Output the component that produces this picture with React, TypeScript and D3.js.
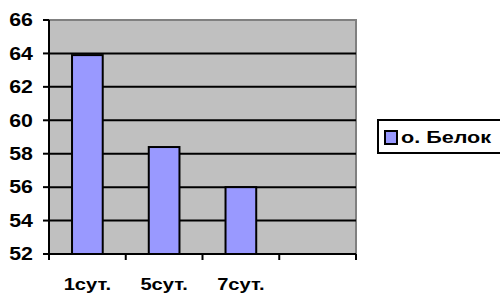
import * as d3 from "d3";
import { useEffect, useRef } from "react";

const categories = ["1сут.", "5сут.", "7сут.", ""];
const belok = [63.9, 58.4, 56.0, null];
const yTicks = [52, 54, 56, 58, 60, 62, 64, 66];
const seriesName = "о. Белок";

const App = () => {
  const ref = useRef<SVGSVGElement>(null);

  useEffect(() => {
    const svg = d3.select(ref.current);
    svg.selectAll("*").remove();

    const left = 49, right = 356, top = 20, bottom = 254;
    const font = "'Liberation Sans', Arial, sans-serif";
    const sx = 1.22; // text in the original is stretched wide

    const x = d3.scaleBand().domain(categories.map((c, i) => i + "")).range([left, right]);
    const y = d3.scaleLinear().domain([52, 66]).range([bottom, top]);

    // plot background
    svg.append("rect")
      .attr("x", left).attr("y", top)
      .attr("width", right - left).attr("height", bottom - top)
      .attr("fill", "#c0c0c0");

    // top and right border (gray)
    svg.append("path")
      .attr("d", `M${left},${top}H${right}V${bottom}`)
      .attr("fill", "none")
      .attr("stroke", "#808080")
      .attr("stroke-width", 2);

    // gridlines
    svg.selectAll(".grid")
      .data(yTicks.filter(t => t !== 52 && t !== 66))
      .enter().append("line")
      .attr("x1", left).attr("x2", right)
      .attr("y1", d => y(d)).attr("y2", d => y(d))
      .attr("stroke", "#000")
      .attr("stroke-width", 2);

    // bars
    const bw = x.bandwidth() * 0.4;
    svg.selectAll(".bar")
      .data(belok.map((v, i) => ({ v, i })).filter(d => d.v !== null))
      .enter().append("rect")
      .attr("x", d => (x(d.i + "") as number) + x.bandwidth() / 2 - bw / 2)
      .attr("y", d => y(d.v as number))
      .attr("width", bw)
      .attr("height", d => bottom - y(d.v as number))
      .attr("fill", "#9999ff")
      .attr("stroke", "#000")
      .attr("stroke-width", 2);

    // axes
    svg.append("line")
      .attr("x1", left).attr("x2", left).attr("y1", top).attr("y2", bottom + 5)
      .attr("stroke", "#000").attr("stroke-width", 2);
    svg.append("line")
      .attr("x1", left - 6).attr("x2", right).attr("y1", bottom).attr("y2", bottom)
      .attr("stroke", "#000").attr("stroke-width", 2);

    // y ticks
    svg.selectAll(".ytick")
      .data(yTicks)
      .enter().append("line")
      .attr("x1", left - 6).attr("x2", left)
      .attr("y1", d => y(d)).attr("y2", d => y(d))
      .attr("stroke", "#000").attr("stroke-width", 2);

    svg.selectAll(".ylabel")
      .data(yTicks)
      .enter().append("text")
      .attr("transform", d => `translate(33,${y(d)}) scale(${sx},1)`)
      .attr("dy", "0.36em")
      .attr("text-anchor", "end")
      .attr("font-family", font)
      .attr("font-weight", "bold")
      .attr("font-size", 17.5)
      .text(d => d);

    // x ticks at band boundaries
    const bounds = categories.map((c, i) => x(i + "") as number).concat([right]);
    svg.selectAll(".xtick")
      .data(bounds)
      .enter().append("line")
      .attr("x1", d => d).attr("x2", d => d)
      .attr("y1", bottom).attr("y2", bottom + 6)
      .attr("stroke", "#000").attr("stroke-width", 2);

    svg.selectAll(".xlabel")
      .data(categories)
      .enter().append("text")
      .attr("transform", (d, i) => `translate(${(x(i + "") as number) + x.bandwidth() / 2},290) scale(${sx},1)`)
      .attr("text-anchor", "middle")
      .attr("font-family", font)
      .attr("font-weight", "bold")
      .attr("font-size", 16.5)
      .text(d => d);

    // legend
    const lg = svg.append("g");
    lg.append("rect")
      .attr("x", 378).attr("y", 120)
      .attr("width", 140).attr("height", 33)
      .attr("fill", "#fff")
      .attr("stroke", "#000")
      .attr("stroke-width", 2);
    lg.append("rect")
      .attr("x", 385).attr("y", 131)
      .attr("width", 12).attr("height", 13)
      .attr("fill", "#9999ff")
      .attr("stroke", "#000")
      .attr("stroke-width", 2);
    lg.append("text")
      .attr("transform", `translate(401,143) scale(1.27,1)`)
      .attr("font-family", font)
      .attr("font-weight", "bold")
      .attr("font-size", 17)
      .text(seriesName);
  }, []);

  return (
    <svg
      ref={ref}
      width={500}
      height={296}
      style={{ position: "absolute", left: 0, top: 0, background: "#fff" }}
    />
  );
};

export default App;
